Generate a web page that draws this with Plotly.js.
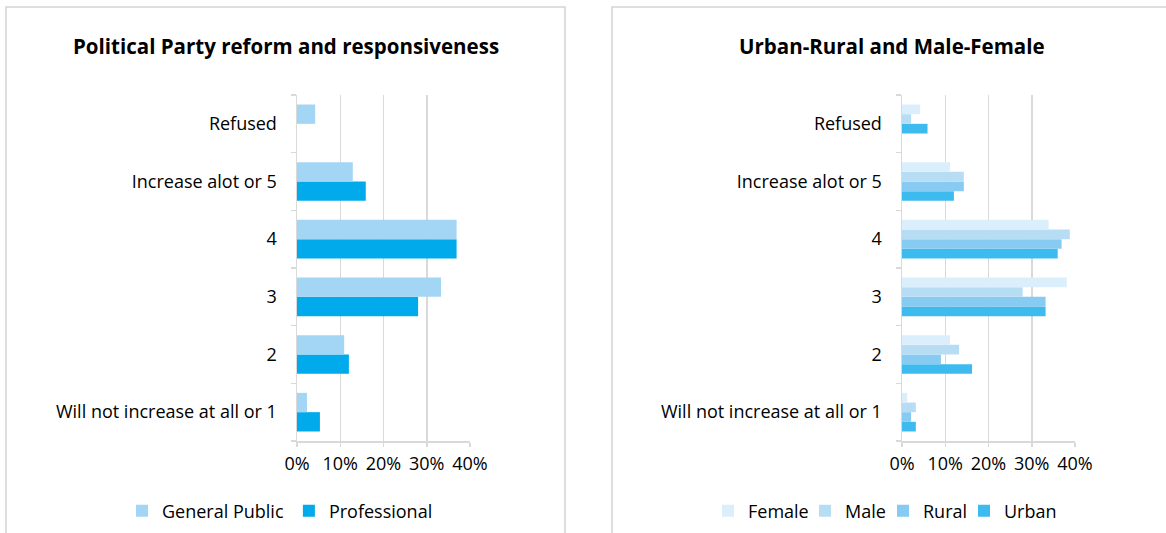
<!DOCTYPE html>
<html>
<head>
<meta charset="utf-8">
<script src="https://cdn.plot.ly/plotly-3.0.1.min.js"></script>
<style>
html,body{margin:0;padding:0;background:#fff;}
#chart{width:1166px;height:533px;}
</style>
</head>
<body>
<div id="chart"></div>
<script>
// Categories, bottom to top
var categories = ["Will not increase at all or 1", "2", "3", "4", "Increase alot or 5", "Refused"];

// Left chart: Political Party reform and responsiveness (%)
var generalPublic = [2.3, 10.9, 33.3, 36.9, 12.9, 4.2];
var professional  = [5.3, 12.0, 28.0, 36.9, 15.9, null];

// Right chart: Urban-Rural and Male-Female (%)
var female = [1.2, 11.1, 38.1, 33.9, 11.1, 4.2];
var male   = [3.2, 13.2, 27.9, 38.8, 14.3, 2.1];
var rural  = [2.1, 9.0, 33.2, 36.9, 14.3, 5.9];
var urban  = [3.2, 16.2, 33.2, 36.0, 12.0, null];

var xTicks = [0, 10, 20, 30, 40];
var xTickText = ["0%", "10%", "20%", "30%", "40%"];

var FONT = "Open Sans, Noto Sans, sans-serif";
var W = 1166, H = 533;
function px(x){return x / W;}
function py(y){return 1 - y / H;}

var cGP = "#a3d5f5", cPro = "#00aaeb";
var cF = "#dbeefb", cM = "#b7ddf5", cR = "#87caf2", cU = "#3dbbef";

var ruralColors = rural.map(function(v, i){ return i === categories.length - 1 ? cU : cR; });

var traces = [
  {type:"bar", orientation:"h", name:"Professional", y:categories, x:professional,
   marker:{color:cPro}, xaxis:"x", yaxis:"y", legend:"legend"},
  {type:"bar", orientation:"h", name:"General Public", y:categories, x:generalPublic,
   marker:{color:cGP}, xaxis:"x", yaxis:"y", legend:"legend"},
  {type:"bar", orientation:"h", name:"Urban", y:categories, x:urban,
   marker:{color:cU}, xaxis:"x2", yaxis:"y2", legend:"legend5"},
  {type:"bar", orientation:"h", name:"Rural", y:categories, x:rural,
   marker:{color:ruralColors}, xaxis:"x2", yaxis:"y2", legend:"legend4"},
  {type:"bar", orientation:"h", name:"Male", y:categories, x:male,
   marker:{color:cM}, xaxis:"x2", yaxis:"y2", legend:"legend3"},
  {type:"bar", orientation:"h", name:"Female", y:categories, x:female,
   marker:{color:cF}, xaxis:"x2", yaxis:"y2", legend:"legend2"}
];

function xAxis(domain, anchor){
  return {domain:domain, anchor:anchor, range:[0,40], tickvals:xTicks, ticktext:xTickText,
    showgrid:true, gridcolor:"#d9d9d9", gridwidth:1.5, zeroline:false,
    showline:true, linecolor:"#d9d9d9", linewidth:1.5,
    ticks:"outside", ticklen:4, tickcolor:"#d9d9d9", tickwidth:1.5,
    ticklabelstandoff:2,
    tickfont:{family:FONT, size:18, color:"#000"}, fixedrange:true};
}
function yAxis(domain, anchor){
  return {domain:domain, anchor:anchor, type:"category", categoryorder:"array", categoryarray:categories,
    showgrid:false, zeroline:false, showline:true, linecolor:"#d9d9d9", linewidth:1.5,
    ticks:"outside", tickson:"boundaries", ticklen:5, tickcolor:"#d9d9d9", tickwidth:1.5,
    ticklabelstandoff:15,
    tickfont:{family:FONT, size:18, color:"#000"}, fixedrange:true};
}
function legendAt(x){
  return {orientation:"h", traceorder:"reversed", x:px(x), y:py(511), xanchor:"left", yanchor:"middle",
    font:{family:FONT, size:18, color:"#000"}, itemwidth:30, bgcolor:"rgba(0,0,0,0)"};
}

var yDom = [py(441), py(95)];

var layout = {
  width:W, height:H, margin:{l:0,r:0,t:0,b:0},
  paper_bgcolor:"#fff", plot_bgcolor:"#fff",
  barmode:"group", bargap:0.33, bargroupgap:0,
  font:{family:FONT, size:18, color:"#000"},
  xaxis: xAxis([px(297), px(470)], "y"),
  yaxis: yAxis(yDom, "x"),
  xaxis2: xAxis([px(902), px(1075)], "y2"),
  yaxis2: yAxis(yDom, "x2"),
  showlegend:true,
  legend: legendAt(122),
  legend2: legendAt(708),
  legend3: legendAt(805),
  legend4: legendAt(883),
  legend5: legendAt(964),
  annotations:[
    {text:"<b>Political Party reform and responsiveness</b>", xref:"paper", yref:"paper",
     x:px(286), y:py(46), xanchor:"center", yanchor:"middle", showarrow:false,
     font:{family:FONT, size:20.5, color:"#000"}},
    {text:"<b>Urban-Rural and Male-Female</b>", xref:"paper", yref:"paper",
     x:px(892), y:py(46), xanchor:"center", yanchor:"middle", showarrow:false,
     font:{family:FONT, size:20.5, color:"#000"}}
  ],
  shapes:[
    {type:"rect", xref:"paper", yref:"paper", x0:px(6), x1:px(565), y0:-0.1, y1:py(7),
     line:{color:"#d4d4d4", width:1.5}, fillcolor:"rgba(0,0,0,0)", layer:"below"},
    {type:"rect", xref:"paper", yref:"paper", x0:px(612), x1:1.1, y0:-0.1, y1:py(7),
     line:{color:"#d4d4d4", width:1.5}, fillcolor:"rgba(0,0,0,0)", layer:"below"}
  ]
};

Plotly.newPlot("chart", traces, layout, {displayModeBar:false, staticPlot:true});
</script>
</body>
</html>
